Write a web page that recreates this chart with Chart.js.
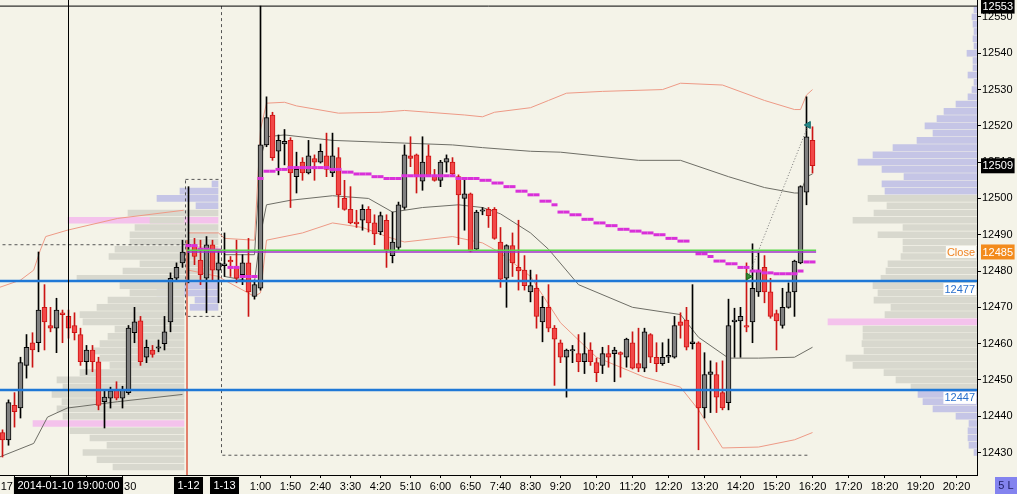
<!DOCTYPE html>
<html><head><meta charset="utf-8">
<script src="https://cdn.jsdelivr.net/npm/chart.js@4.4.1/dist/chart.umd.min.js"></script>
<style>
html,body{margin:0;padding:0;background:#f4f3e8;overflow:hidden}
#wrap{width:1017px;height:494px}
canvas{display:block}
</style></head><body>
<div id="wrap"><canvas id="c" width="1017" height="494"></canvas></div>
<script>
// ---------------- DATA (10-minute bars, slot index = bar number) ----------------
const open = [
12435.5,12433.5,12443,12442.25,12454,12460.25,12460.25,12470,12465,12464.25,
12468.5,12467.5,12465,12462.5,12455,12458.25,12455,12444,12445,12447.25,
12445,12446.5,12463,12466.25,12456.25,12458.25,12458.75,12460,12466,12478,
12482.25,12487,12487.25,12483,12478,12487.25,12480.25,12481.5,12483,12481,
12479,12482.25,12473,12475.25,12514.75,12523,12513,12515,12516,12506,
12510,12507,12511,12510,12511.75,12507,12511.25,12500,12497,12493.5,
12494,12497,12493.25,12490.75,12494,12484.25,12486.5,12497.5,12511.75,12512,
12504.75,12511.75,12506.25,12505,12510,12510,12506,12500,12501.25,12486,
12496.5,12497,12497,12488,12478,12487,12481,12480.25,12474.25,12475.25,
12466,12470,12464.25,12460.25,12456.25,12458,12457.25,12455,12458.25,12454.75,
12454,12457.25,12457.25,12457.5,12456.25,12460.25,12454.5,12453.25,12462.5,12456.25,
12454.5,12456.25,12456.25,12466,12466.5,12460,12460.25,12442.25,12451.5,12451.5,
12446.5,12443.75,12466,12466.25,12465,12466,12474.25,12481,12474.25,12468.25,
12465,12470,12474.25,12482.25,12501.75,12516];
const high = [
12436.25,12444.5,12446.5,12456.25,12462.5,12463,12485.25,12476.25,12470,12472.5,
12469.25,12469.25,12468.5,12464.25,12459.5,12459.5,12456.25,12447.25,12448,12449.5,
12448.25,12465,12470,12467.5,12461,12459.5,12461,12467.5,12479.5,12482.25,
12488.5,12503.25,12489,12488.5,12489.5,12488.5,12485.75,12490.5,12484,12488.5,
12484.5,12489,12477.5,12553,12528,12523.75,12517.5,12519,12516.75,12512.75,
12511.25,12516,12512,12515,12518,12518,12514,12505,12503.25,12496.75,
12498.25,12497.75,12495.5,12496.25,12495.5,12496.25,12499,12514.75,12517,12512.25,
12517,12514.75,12508,12510.5,12512,12511.25,12506.5,12505,12501.5,12496.75,
12497.5,12497.5,12497.5,12492,12487.25,12490.5,12494,12484.25,12480.25,12479,
12473,12476.25,12465,12461,12458.5,12459.5,12462.5,12463,12460.25,12456,
12459,12459.5,12459,12457.75,12461.5,12463.25,12464.25,12464.25,12462.75,12460.25,
12460.25,12461.25,12467.5,12468.5,12470,12476.25,12460.5,12457.5,12455.25,12454.75,
12455.25,12472.25,12469.75,12470,12482.25,12487.5,12485,12484.25,12478,12469.25,
12475.25,12476.75,12483,12503.5,12528,12519.75];
const low = [
12428.75,12432,12437,12439.5,12450.5,12453.5,12457.75,12458.25,12463.25,12457.5,
12460.25,12461.5,12461,12454,12451.5,12452.25,12441.75,12436.75,12442.25,12444.5,
12442.25,12446,12460.25,12454,12454.75,12456.25,12457.75,12458.25,12463.25,12477.5,
12481,12476.75,12481.75,12476.25,12468.5,12477.5,12471.25,12478.5,12478.5,12476.75,
12476.25,12467.5,12472.25,12474.75,12514.25,12510.5,12506.5,12509.25,12497.5,12501.5,
12505,12506.75,12505,12509.75,12506,12506,12497.5,12496.75,12493,12492,
12491.25,12490.75,12487.25,12490,12481,12482.25,12485.75,12497,12508.75,12501.5,
12502.25,12506,12504.75,12503.25,12507.25,12506.5,12487.25,12491.25,12485.25,12485.75,
12495.5,12492,12488.75,12475.5,12470,12478.5,12474.75,12474.75,12471.5,12464.25,
12460.5,12463.25,12448.5,12454.75,12445.25,12454.75,12452.25,12451.75,12454,12449.5,
12451.75,12453.5,12449.5,12450.75,12453.5,12453,12452.25,12452.25,12454.75,12452.25,
12454,12454.75,12456,12461.5,12458.25,12458.5,12430.75,12439.5,12441,12441,
12441.75,12441.75,12456.25,12456.25,12463.25,12460.25,12473,12471.25,12467,12458.25,
12464.25,12469.75,12467.5,12482,12498.25,12507];
const close = [
12433.5,12443.75,12441.25,12454.75,12459,12458.25,12469.25,12466,12464.25,12469.25,
12468,12464.25,12463,12455,12458.25,12455,12443,12445.25,12447,12445,
12447.25,12464.25,12466,12455,12459,12457,12459,12463.25,12478,12481,
12485.25,12487.25,12484,12479,12487.25,12480.25,12482.25,12482,12482.5,12478,
12482.25,12474.25,12476.25,12514.75,12522.25,12511.25,12516,12515.75,12507,12508,
12507,12511.75,12510,12513,12508,12511.75,12501,12497,12493.25,12493,
12497,12493.25,12490.25,12495.25,12485.75,12488,12498.25,12512,12511,12506,
12510,12506.25,12505,12510,12511,12506.75,12501,12501.25,12485.5,12496.25,
12496.75,12495.25,12489,12477.75,12487,12482.25,12480,12476,12476,12467.5,
12470,12464.25,12461.25,12456.25,12458.25,12458.25,12455,12457.25,12455,12452,
12457.25,12456.25,12458.25,12457,12461.25,12453.25,12453.25,12463.25,12456.25,12454.5,
12456.25,12456.75,12465,12465,12459,12460.5,12442.25,12451.5,12452.25,12445.25,
12442.25,12465,12466.5,12467.5,12464.5,12475.25,12480,12474.25,12467.5,12466.25,
12470,12474.25,12482.75,12503.25,12517,12509];

// developing POC (magenta), starting at slot 31
const pocStartSlot = 31;
const pocDev = [
12487,12487,12486,12486,12485.75,12485.75,null,12481,12481,12478.5,12478.5,12478.5,
12505.5,12507.5,12507.5,12508,12508,
12508.5,12508.5,12508.5,12508.5,12508.5,12508.5,12508.5,
12508,12508,12507.25,12507.25,12506.75,12506.75,12506.75,12506,12506,
12505.5,12505.5,12505.5,
12506.25,12506.25,12506.25,12506.25,12506.25,12506.25,12506.25,12506.25,12506.25,
12505.5,12505.5,12505.5,12505.5,12505,12505,12504.25,12504.25,12503.25,12503.25,
12502,12502,12501,12501,12499.25,12499.25,12498.25,12496.25,12496.25,12495.5,12495.5,
12494.25,12494.25,12493.25,12493.25,12492.5,12492.5,12491.5,12491.5,12491,12491,
12490.5,12490.5,12490,12490,12489,12489,12488.25,12488.25,null,
12484.75,12484.75,12484,12482.75,12482.75,12482,12482,12481,12481,12480,12480,
12479.5,12479.5,12479.25,12479.25,12479.25,12479.25,12480,12482.5,12482.5];

// deviation bands  [slot, price]
const redUpperLeft = [[-0.5,12475.5],[3,12477.5],[5.2,12480.25],[6.3,12485.75],[7.2,12489.5],[10.8,12491.25],[19.2,12494.5],[30.2,12496.75]];
const grayLowerLeft = [[-0.5,12428.75],[5.2,12432.5],[7.5,12439.75],[10.8,12442.25],[19.2,12444],[30,12446]];
const redUpper = [[31,12490.5],[36,12490.5],[37,12489],[42,12488.5],[43,12519],[44,12526.25],[47,12526.5],[49,12525.5],[56,12523.5],[63,12523.75],[67,12524.25],[71,12523.75],[77,12523],[80,12522.5],[82,12523.75],[88,12525],[91,12527],[94,12529],[100,12529.5],[110,12530],[113,12531.75],[120,12531.25],[127,12527],[132,12524.5],[133,12524.5],[134,12528.5],[135,12530]];
const grayUpper = [[37,12484.5],[42,12484.5],[43,12511],[44,12517],[47,12517.5],[55,12516],[63,12515.5],[67,12515.25],[75,12514.75],[80,12514],[88,12513],[93,12512.75],[106,12510.5],[113,12510.5],[121,12506],[127,12503],[132,12501.5],[133,12501.5],[134,12506],[135,12506.75]];
const grayLower = [[37,12478.5],[42,12477],[43,12490],[44,12498.25],[48,12499.5],[55,12500.75],[61,12500],[65,12496.25],[70,12497.5],[76,12498.25],[80,12497.5],[83,12495.75],[88,12490.5],[91,12486],[96,12476.25],[105,12470],[113,12468],[116,12461.75],[121,12456],[126,12456],[132,12456.25],[135,12459]];
const redLower = [[31,12480.25],[36,12478.5],[37,12477.5],[42,12473],[43,12474],[44,12488.5],[50,12490.5],[55,12493.25],[60,12492],[64,12489.5],[67,12488],[75,12489.5],[80,12487.75],[83,12485],[88,12478.5],[93,12465.75],[99,12456.25],[107,12450.75],[113,12448],[116,12441.75],[120,12431.25],[126,12431.5],[132,12433.5],[135,12435.5]];
const redSeparator = [[30.75,12488.5],[30.75,12423]];

// volume profiles (rows every 2 points)
const rightProfileBase = 12430;
const rightProfileVol = [3,8,9,9,8,21,44,54,59,66,81,93,124,131,113,115,114,114,149,92,86,103,99,104,96,91,89,76,74,74,99,74,124,103,90,109,92,95,73,95,119,104,84,60,44,52,40,33,21,9,5,3,9,4,4,10,3,4,3,4,5,3];
const rightValueArea = [12448,12500], rightPoc = 12466;
const leftProfileBase = 12426;
const leftProfileVol = [71,87,101,77,94,114,151,121,127,122,132,121,127,104,74,84,91,84,76,69,101,104,87,76,54,64,107,61,44,75,69,54,54,49,34,56];
const leftValueArea = [12426,12496], leftPoc = 12438;
const midProfileBase = 12470;
const midProfileVol = [28,23,61,88,34,34,34,34,34,34,34,34,150,34,22,61,38,6];
const midValueArea = [12478,12496], midPoc = 12494;

// levels
const blueLevels = [12477.25, 12447.25];
const blueLabels = ['12477', '12447'];
const greenLevel = 12485.75, purpleLevel = 12485.25;
const prevClose = 12485.25, prevCloseLabel = '12485';
const crossSlot = 11, crossPrice = 12553, crossLabel = '2014-01-10 19:00:00', crossPriceLabel = '12553';
const lastPriceLabel = '12509';
const sessionSlots = [31, 37], sessionLabels = ['1-12', '1-13'];
const levelSpan = [30.75, 135.6];
const box1013 = {x0:36.5, x1:134.5, top:12553, bottom:12429.25};
const box1012 = {x0:30.5, x1:36.5, top:12505.25, bottom:12467.5};
const line1010 = {x0:-1, x1:30.5, price:12487.25};
const tradeFrom = [124.3, 12478.5], tradeTo = [134.3, 12520.25];

// axis ticks
const priceTicks = [12430,12440,12450,12460,12470,12480,12490,12500,12510,12520,12530,12540,12550];
const timeTickSlots = [2,8,14,20,43,48,53,58,63,68,73,78,83,88,93,99,105,111,117,123,129,135,141,147,153,159];
const timeTickLabels = ['17:30','18:30','19:30','20:30','1:00','1:50','2:40','3:30','4:20','5:10','6:00','6:50','7:40','8:30','9:20','10:20','11:20','12:20','13:20','14:20','15:20','16:20','17:20','18:20','19:20','20:20'];

// ---------------- CHART ----------------
const FONT_FAMILY = "'Liberation Sans', Arial, sans-serif";
Chart.defaults.font.family = FONT_FAMILY;
Chart.defaults.font.size = 11;
Chart.defaults.color = '#000';

const PLOT_W = 977;
const UP_FILL = '#808080', UP_LINE = '#000000', DN_FILL = '#f24848', DN_LINE = '#cc1414';
const GRAY = '#d8d8ce', LAV = '#c5c5e6', PINK = '#f4c2ec';
const RED_BAND = '#ee9a86', GRAY_BAND = '#6e6e66';

const idx = open.map((_, i) => i);
const up = i => close[i] >= open[i];
const pts = arr => arr.map(p => ({x: p[0], y: p[1]}));

function lineDS(data, color, width, extra) {
  return Object.assign({type: 'line', data, borderColor: color, borderWidth: width, pointRadius: 0,
    fill: false, tension: 0, xAxisID: 'x', yAxisID: 'y', spanGaps: false, order: 12}, extra || {});
}
function profileDS(base, vols, axis, va, poc) {
  const rows = vols.map((v, k) => ({y: base + 2 * k, x: v}));
  return {type: 'bar', indexAxis: 'y', xAxisID: axis, yAxisID: 'y', data: rows,
    backgroundColor: rows.map(r => r.y === poc ? PINK : (r.y >= va[0] && r.y <= va[1] ? GRAY : LAV)),
    borderWidth: 0, barThickness: 6, grouped: false, order: 20};
}

const datasets = [
  profileDS(rightProfileBase, rightProfileVol, 'xr', rightValueArea, rightPoc),
  profileDS(leftProfileBase, leftProfileVol, 'xl', leftValueArea, leftPoc),
  profileDS(midProfileBase, midProfileVol, 'xm', midValueArea, midPoc),
  // dashed session boxes
  lineDS([{x: box1013.x0, y: box1013.top}, {x: box1013.x0, y: box1013.bottom}, {x: box1013.x1, y: box1013.bottom}], '#555', 1, {borderDash: [3, 3], order: 15}),
  lineDS([{x: box1012.x0, y: box1012.top}, {x: box1012.x1, y: box1012.top}, {x: box1012.x1, y: box1012.bottom}, {x: box1012.x0, y: box1012.bottom}, {x: box1012.x0, y: box1012.top}], '#555', 1, {borderDash: [3, 3], order: 15}),
  lineDS([{x: line1010.x0, y: line1010.price}, {x: line1010.x1, y: line1010.price}], '#555', 1, {borderDash: [3, 3], order: 15}),
  // bands
  lineDS(pts(redUpperLeft), RED_BAND, 1),
  lineDS(pts(grayLowerLeft), GRAY_BAND, 1),
  lineDS(pts(redUpper), RED_BAND, 1),
  lineDS(pts(redLower), RED_BAND, 1),
  lineDS(pts(grayUpper), GRAY_BAND, 1),
  lineDS(pts(grayLower), GRAY_BAND, 1),
  lineDS(pts(redSeparator), '#e0705c', 1),
  // wicks
  {type: 'bar', xAxisID: 'x', yAxisID: 'y', data: idx.map(i => ({x: i, y: [low[i], high[i]]})),
    backgroundColor: idx.map(i => up(i) ? UP_LINE : DN_LINE), borderWidth: 0, barThickness: 1, grouped: false, order: 6},
  // bodies
  {type: 'bar', xAxisID: 'x', yAxisID: 'y',
    data: idx.map(i => { const a = Math.min(open[i], close[i]), b = Math.max(open[i], close[i]); return {x: i, y: [a, Math.max(b, a + 0.35)]}; }),
    backgroundColor: idx.map(i => up(i) ? UP_FILL : DN_FILL), borderColor: idx.map(i => up(i) ? UP_LINE : DN_LINE),
    borderWidth: 1, borderSkipped: false, barThickness: 5, grouped: false, order: 5},
  // developing POC
  lineDS(pocDev.map((v, k) => ({x: pocStartSlot + k, y: v})), '#d930d9', 3,
    {showLine: false, pointStyle: 'line', pointRadius: 3, pointBorderWidth: 3, pointBorderColor: '#d930d9', pointBackgroundColor: '#d930d9', order: 3}),
  // levels
  lineDS([{x: levelSpan[0], y: greenLevel}, {x: levelSpan[1], y: greenLevel}], '#5ad84a', 1.5, {order: 2}),
  lineDS([{x: levelSpan[0], y: purpleLevel}, {x: levelSpan[1], y: purpleLevel}], '#a030c8', 1.5, {order: 2}),
  ...blueLevels.map(v => lineDS([{x: -1, y: v}, {x: 170, y: v}], '#1f78d6', 2.5, {order: 2})),
  // trade arrow
  lineDS([{x: tradeFrom[0], y: tradeFrom[1]}, {x: tradeTo[0], y: tradeTo[1]}], '#777', 1, {borderDash: [1, 2], order: 1}),
  lineDS([{x: tradeFrom[0], y: tradeFrom[1]}], '#1d7a1d', 1, {showLine: false, pointStyle: 'triangle', rotation: 90, pointRadius: 4, pointBackgroundColor: '#2a8a2a', pointBorderColor: '#1d6a1d', order: 1}),
  lineDS([{x: tradeTo[0], y: tradeTo[1]}], '#1a7a7a', 1, {showLine: false, pointStyle: 'triangle', rotation: -90, pointRadius: 4, pointBackgroundColor: '#1f8a8a', pointBorderColor: '#156a6a', order: 1}),
  // crosshair
  lineDS([{x: -1, y: crossPrice}, {x: 170, y: crossPrice}], '#000', 1, {order: 0}),
  lineDS([{x: crossSlot, y: 12400}, {x: crossSlot, y: 12560}], '#000', 1, {order: 0})
];

const bgPlugin = {id: 'bg', beforeDraw(c) { const g = c.ctx; g.save(); g.fillStyle = '#f4f3e8'; g.fillRect(0, 0, c.width, c.height); g.restore(); }};

const overlay = {id: 'overlay', afterDraw(c) {
  const g = c.ctx, X = c.scales.x, Y = c.scales.y, ca = c.chartArea;
  g.save();
  g.font = '11px ' + FONT_FAMILY;
  g.textBaseline = 'middle';
  // in-plot labels
  g.textAlign = 'right';
  blueLevels.forEach((v, k) => {
    const py = Y.getPixelForValue(v) + 8, w = g.measureText(blueLabels[k]).width;
    g.fillStyle = '#ffffff'; g.fillRect(ca.right - 3 - w, py - 6, w + 2, 12);
    g.fillStyle = '#2a70cc'; g.fillText(blueLabels[k], ca.right - 2, py + 0.5);
  });
  {
    const py = Y.getPixelForValue(prevClose), w = g.measureText('Close').width;
    g.fillStyle = '#fbfbf6'; g.fillRect(ca.right - 3 - w, py - 6, w + 2, 12);
    g.fillStyle = '#f08424'; g.fillText('Close', ca.right - 2, py + 0.5);
  }
  // y-axis highlighted labels
  g.textAlign = 'left';
  const marks = [
    {v: crossPrice, t: crossPriceLabel, bg: '#000', fg: '#fff'},
    {v: close[close.length - 1], t: lastPriceLabel, bg: '#000', fg: '#fff'},
    {v: prevClose, t: prevCloseLabel, bg: '#f38b1c', fg: '#fff'}
  ];
  marks.forEach(m => {
    const py = Y.getPixelForValue(m.v), w = g.measureText(m.t).width + 3;
    g.fillStyle = m.bg; g.fillRect(ca.right + 4, py - 7.5, w, 15);
    g.fillStyle = m.fg; g.fillText(m.t, ca.right + 5.5, py + 0.5);
  });
  // x-axis highlighted labels
  g.textAlign = 'center';
  const xm = sessionSlots.map((s, k) => ({s, t: sessionLabels[k]})).concat([{s: crossSlot, t: crossLabel}]);
  xm.forEach(m => {
    const px = X.getPixelForValue(m.s), w = g.measureText(m.t).width + 7;
    g.fillStyle = '#000'; g.fillRect(px - w / 2, ca.bottom + 2, w, c.height - ca.bottom - 2);
    g.fillStyle = '#fff'; g.fillText(m.t, px, ca.bottom + 11);
  });
  // "5 L" badge
  g.fillStyle = '#8383ef'; g.fillRect(995, ca.bottom + 2, 22, c.height - ca.bottom - 2);
  g.fillStyle = '#1e1e66'; g.fillText('5 L', 1006, ca.bottom + 11);
  g.restore();
}};

new Chart(document.getElementById('c'), {
  type: 'bar',
  data: {datasets},
  options: {
    responsive: false, animation: false, events: [],
    layout: {padding: 0, autoPadding: false},
    plugins: {legend: {display: false}, tooltip: {enabled: false}},
    scales: {
      x: {type: 'linear', position: 'bottom', min: -0.41667, max: 162.41667, offset: false,
        grid: {display: true, offset: false, drawOnChartArea: false, drawTicks: true, tickLength: 3, color: '#000'},
        border: {display: true, color: '#000', width: 1},
        ticks: {autoSkip: false, maxRotation: 0, minRotation: 0, padding: 2, color: '#000',
          callback: (v, i) => timeTickLabels[i]},
        afterBuildTicks: s => { s.ticks = timeTickSlots.map(v => ({value: v})); },
        afterFit: s => { s.height = 19; s.paddingLeft = 0; s.paddingRight = 0; s.paddingTop = 0; s.paddingBottom = 0; }},
      y: {type: 'linear', position: 'right', min: 12423.8, max: 12554.68, beginAtZero: false, offset: false,
        grid: {display: true, offset: false, drawOnChartArea: false, drawTicks: true, tickLength: 4, color: '#000'},
        border: {display: true, color: '#000', width: 1},
        ticks: {autoSkip: false, padding: 1, color: '#000', callback: v => String(v)},
        afterBuildTicks: s => { s.ticks = priceTicks.map(v => ({value: v})); },
        afterFit: s => { s.width = 40; s.paddingTop = 0; s.paddingBottom = 0; s.paddingLeft = 0; s.paddingRight = 0; }},
      xr: {type: 'linear', display: false, reverse: true, min: 0, max: PLOT_W, offset: false},
      xl: {type: 'linear', display: false, reverse: true, min: -(PLOT_W - 184), max: 184, offset: false},
      xm: {type: 'linear', display: false, reverse: true, min: -(PLOT_W - 218), max: 218, offset: false}
    }
  },
  plugins: [bgPlugin, overlay]
});
</script>
</body></html>
